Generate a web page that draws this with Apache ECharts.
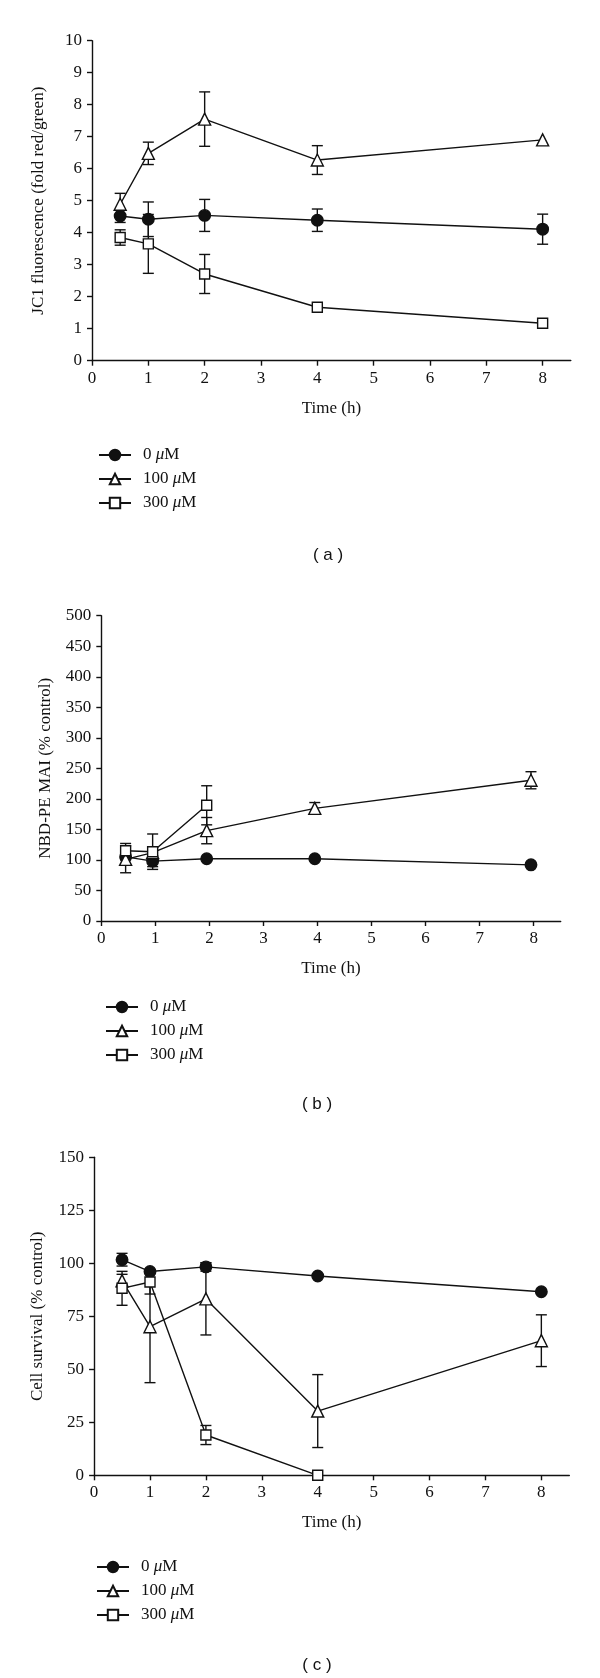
<!DOCTYPE html>
<html>
<head>
<meta charset="utf-8">
<script src="https://cdn.jsdelivr.net/npm/echarts@6/dist/echarts.min.js"></script>
<style>
html,body{margin:0;padding:0;background:#fff;}
#chart{width:600px;height:1678px;}
</style>
</head>
<body>
<div id="chart"></div>
<script>
// ---------- data ----------
const seriesNames = ['0 μM', '100 μM', '300 μM'];
const xTickValues = [0, 1, 2, 3, 4, 5, 6, 7, 8];

// Panel (a): JC1 fluorescence (fold red/green)
const timeA = [0.5, 1, 2, 4, 8];
const a0 = [4.52, 4.42, 4.54, 4.39, 4.11];
const a0Err = [0.2, 0.54, 0.5, 0.35, 0.47];
const a100 = [4.89, 6.48, 7.55, 6.27, 6.9];
const a100Err = [0.34, 0.35, 0.85, 0.45, 0];
const a300 = [3.85, 3.65, 2.71, 1.67, 1.17];
const a300Err = [0.24, 0.92, 0.61, 0, 0];

// Panel (b): NBD-PE MAI (% control)
const timeB = [0.45, 0.95, 1.95, 3.95, 7.95];
const b0 = [105, 98, 102, 102, 92];
const b0Err = [5, 9, 0, 0, 0];
const b100 = [101, 112, 148, 184.5, 230.5];
const b100Err = [22, 5, 21.5, 9.5, 14];
const timeB300 = [0.45, 0.95, 1.95];
const b300 = [115, 113.5, 189.5];
const b300Err = [12, 29, 32];

// Panel (c): Cell survival (% control)
const timeC = [0.5, 1, 2, 4, 8];
const c0 = [101.7, 96.1, 98.3, 94, 86.6];
const c0Err = [3, 0, 2, 0, 0];
const c100 = [91.8, 70.1, 83.2, 30.3, 63.5];
const c100Err = [3, 26.4, 17, 17.2, 12.2];
const timeC300 = [0.5, 1, 2, 4];
const c300 = [88.2, 91.2, 19, 0];
const c300Err = [8, 5.7, 4.5, 0];

// ---------- styling ----------
const SERIF = '"Liberation Serif", "Times New Roman", serif';
const SANS = '"Liberation Sans", Arial, sans-serif';
const INK = '#111111';
const FS = 17;

const panels = [
  {grid: {left: 92, top: 40.7, width: 478.8, height: 320},
   y: {max: 10, interval: 1, name: 'JC1 fluorescence (fold red/green)', nameGap: 45},
   label: '( a )', labelX: 323, labelY: 553,
   legend: {left: 93, top: 440},
   sets: [[timeA, a0, a0Err], [timeA, a100, a100Err], [timeA, a300, a300Err]]},
  {grid: {left: 101.3, top: 615.7, width: 459.4, height: 305.3},
   y: {max: 500, interval: 50, name: 'NBD-PE MAI (% control)', nameGap: 47},
   label: '( b )', labelX: 312, labelY: 1102,
   legend: {left: 100, top: 992},
   sets: [[timeB, b0, b0Err], [timeB, b100, b100Err], [timeB300, b300, b300Err]]},
  {grid: {left: 94.1, top: 1157.3, width: 475.2, height: 318},
   y: {max: 150, interval: 25, name: 'Cell survival (% control)', nameGap: 48},
   label: '( c )', labelX: 312, labelY: 1663,
   legend: {left: 91, top: 1552},
   sets: [[timeC, c0, c0Err], [timeC, c100, c100Err], [timeC300, c300, c300Err]]}
];

const symbolDefs = [
  {symbol: 'circle', size: 11.5, fill: INK},
  {symbol: 'triangle', size: 12, fill: '#fff'},
  {symbol: 'rect', size: 10, fill: '#fff'}
];

const axisLineStyle = {color: INK, width: 1.4};

const grids = [], xAxes = [], yAxes = [], series = [], legends = [], titles = [];

function errRender(params, api) {
  const x = api.value(0), y = api.value(1), e = api.value(2);
  if (!e) return null;
  const top = api.coord([x, y + e]);
  const bot = api.coord([x, y - e]);
  const hw = 5.5;
  const st = {stroke: INK, lineWidth: 1.4};
  return {
    type: 'group',
    children: [
      {type: 'line', shape: {x1: top[0], y1: top[1], x2: bot[0], y2: bot[1]}, style: st},
      {type: 'line', shape: {x1: top[0] - hw, y1: top[1], x2: top[0] + hw, y2: top[1]}, style: st},
      {type: 'line', shape: {x1: bot[0] - hw, y1: bot[1], x2: bot[0] + hw, y2: bot[1]}, style: st}
    ]
  };
}

panels.forEach((p, i) => {
  grids.push(Object.assign({containLabel: false}, p.grid));
  xAxes.push({
    type: 'value', gridIndex: i, min: 0, max: 8.5, interval: 1,
    axisLine: {show: true, onZero: false, lineStyle: axisLineStyle},
    axisTick: {show: true, inside: false, length: 5, lineStyle: axisLineStyle, customValues: xTickValues},
    axisLabel: {show: true, margin: 9, color: INK, fontFamily: SERIF, fontSize: FS, customValues: xTickValues},
    splitLine: {show: false},
    name: 'Time (h)', nameLocation: 'middle', nameGap: 39,
    nameTextStyle: {color: INK, fontFamily: SERIF, fontSize: FS}
  });
  yAxes.push({
    type: 'value', gridIndex: i, min: 0, max: p.y.max, interval: p.y.interval,
    axisLine: {show: true, onZero: false, lineStyle: axisLineStyle},
    axisTick: {show: true, inside: false, length: 5, lineStyle: axisLineStyle},
    axisLabel: {show: true, margin: 10, color: INK, fontFamily: SERIF, fontSize: FS},
    splitLine: {show: false},
    name: p.y.name, nameLocation: 'middle', nameGap: p.y.nameGap, nameRotate: 90,
    nameTextStyle: {color: INK, fontFamily: SERIF, fontSize: FS}
  });
  p.sets.forEach((s, k) => {
    const [t, v, e] = s;
    const sd = symbolDefs[k];
    series.push({
      type: 'custom', xAxisIndex: i, yAxisIndex: i, z: 1,
      renderItem: errRender, silent: true,
      data: t.map((tt, j) => [tt, v[j], e[j]])
    });
    series.push({
      type: 'line', name: seriesNames[k], xAxisIndex: i, yAxisIndex: i, z: 3,
      data: t.map((tt, j) => [tt, v[j]]),
      symbol: sd.symbol, symbolSize: sd.size, showAllSymbol: true,
      lineStyle: {color: INK, width: 1.4},
      itemStyle: {color: sd.fill, borderColor: INK, borderWidth: 1.4, opacity: 1},
      emphasis: {disabled: true}
    });
  });
  legends.push({
    orient: 'vertical', left: p.legend.left, top: p.legend.top,
    itemWidth: 32, itemHeight: 13, itemGap: 4, selectedMode: false,
    data: seriesNames,
    formatter: function (name) {
      const parts = name.split(' ');
      return parts[0] + ' {i|μ}M';
    },
    textStyle: {
      color: INK, fontFamily: SERIF, fontSize: FS, lineHeight: 20, padding: [0, 0, 0, 7],
      rich: {i: {fontStyle: 'italic', fontFamily: SERIF, fontSize: FS, color: INK, lineHeight: 20}}
    }
  });
  titles.push({
    text: p.label, left: p.labelX, top: p.labelY - 11, textAlign: 'center',
    textStyle: {fontFamily: SANS, fontSize: 17, fontWeight: 'normal', color: INK}
  });
});

const chart = echarts.init(document.getElementById('chart'), null, {renderer: 'canvas'});
chart.setOption({
  animation: false,
  backgroundColor: '#fff',
  title: titles,
  grid: grids,
  xAxis: xAxes,
  yAxis: yAxes,
  legend: legends,
  series: series
});
</script>
</body>
</html>
